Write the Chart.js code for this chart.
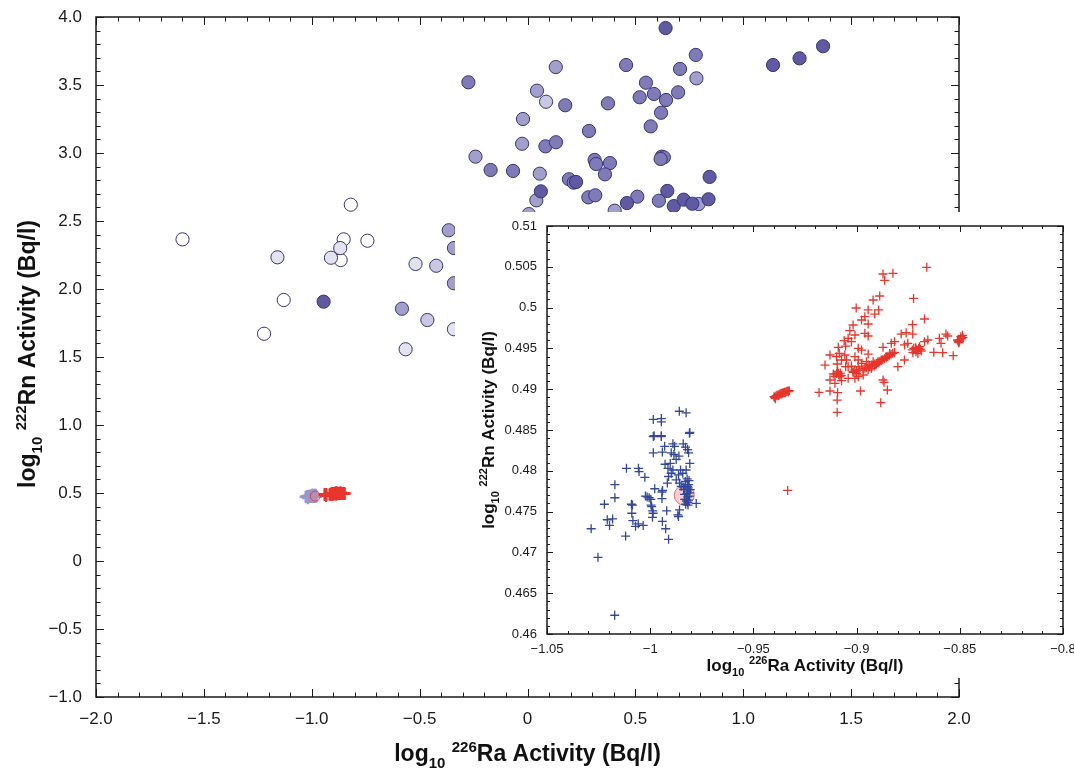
<!DOCTYPE html>
<html>
<head>
<meta charset="utf-8">
<script src="https://cdn.jsdelivr.net/npm/chart.js@4.4.1/dist/chart.umd.min.js"></script>
<style>
  html, body { margin: 0; padding: 0; background: #ffffff; }
  #wrap { position: relative; width: 1074px; height: 769px; overflow: hidden; }
  #main { position: absolute; left: 0; top: 0; }
  #insetBox { position: absolute; left: 455px; top: 212px; width: 619px; height: 466px; background: #ffffff; }
  #inset { position: absolute; left: 0; top: 0; }
</style>
</head>
<body>
<div id="wrap">
  <canvas id="main" width="1074" height="769"></canvas>
  <div id="insetBox"><canvas id="inset" width="619" height="466"></canvas></div>
</div>
<script>
// ---- Well samples: [log10 Ra-226, log10 Rn-222], grouped by marker shade ----
const shade0 = [[-1.599,2.365],[-1.130,1.919],[-1.221,1.671],[-0.819,2.620],[-0.852,2.365],[-0.866,2.213],[-0.742,2.355]];
const shade1 = [[-1.159,2.233],[-0.868,2.301],[-0.911,2.230],[-0.519,2.184],[-0.565,1.557],[-0.341,1.704]];
const shade2 = [[-0.423,2.171],[-0.464,1.772],[0.086,3.377]];
const shade3 = [[-0.582,1.855],[-0.365,2.432],[-0.341,2.301],[-0.341,2.042],[0.131,3.632],[0.044,3.458],[-0.021,3.250],
  [0.783,3.549],[-0.025,3.068],[-0.241,2.973],[0.057,2.848],[0.041,2.652],[0.006,2.551],[0.404,2.576],[0.793,2.625]];
const shade4 = [[-0.274,3.520],[0.175,3.351],[0.373,3.365],[0.457,3.647],[0.549,3.517],[0.520,3.410],[0.586,3.434],
  [0.642,3.390],[0.619,3.296],[0.571,3.196],[0.285,3.162],[0.707,3.618],[0.780,3.721],[0.698,3.446],[0.083,3.049],
  [0.132,3.079],[-0.171,2.875],[-0.067,2.868],[0.311,2.949],[0.318,2.919],[0.382,2.926],[0.359,2.843],[0.622,2.973],
  [0.632,2.968],[0.617,2.956],[0.192,2.807],[0.214,2.782],[0.282,2.674],[0.314,2.689],[0.509,2.679],[0.609,2.649]];
const shade5 = [[-0.945,1.907],[0.640,3.919],[0.225,2.787],[0.844,2.824],[0.062,2.718],[0.461,2.632],[0.648,2.721],
  [0.678,2.610],[0.724,2.657],[0.764,2.627],[0.839,2.660],[1.138,3.647],[1.261,3.696],[1.370,3.785]];

// ---- Repeated measurements (zoomed panel) ----
const blueRuns = [[-1.0286,0.4729],[-1.0253,0.4694],[-1.0222,0.4759],[-1.0171,0.4783],[-1.0171,0.4767],[-1.0208,0.4740],
  [-1.0197,0.4733],[-1.0182,0.4741],[-1.0172,0.4623],[-1.0119,0.4720],[-1.0115,0.4803],[-1.0091,0.4759],[-1.0086,0.4758],
  [-1.0089,0.4748],[-1.0084,0.4739],[-1.0071,0.4732],[-1.0057,0.4803],[-1.0054,0.4799],[-1.0058,0.4735],[-1.0034,0.4733],
  [-1.0026,0.4792],[-1.0023,0.4769],[-1.0015,0.4768],[-1.0005,0.4767],[-0.9997,0.4765],[-0.9996,0.4758],[-0.9993,0.4756],
  [-0.9988,0.4751],[-0.9986,0.4748],[-0.9989,0.4743],[-0.9985,0.4822],[-0.9981,0.4843],[-0.9946,0.4843],[-0.9941,0.4823],
  [-0.9978,0.4778],[-0.9943,0.4774],[-0.9940,0.4776],[-0.9943,0.4766],[-0.9941,0.4738],[-0.9925,0.4729],[-0.9920,0.4751],
  [-0.9911,0.4716],[-0.9930,0.4830],[-0.9928,0.4808],[-0.9914,0.4803],[-0.9903,0.4809],[-0.9898,0.4822],[-0.9890,0.4833],
  [-0.9885,0.4820],[-0.9882,0.4830],[-0.9874,0.4814],[-0.9861,0.4818],[-0.9840,0.4833],[-0.9829,0.4829],[-0.9819,0.4826],
  [-0.9810,0.4846],[-0.9808,0.4809],[-0.9814,0.4822],[-0.9853,0.4801],[-0.9842,0.4797],[-0.9826,0.4801],[-0.9863,0.4795],
  [-0.9874,0.4789],[-0.9858,0.4785],[-0.9850,0.4781],[-0.9838,0.4777],[-0.9834,0.4771],[-0.9826,0.4765],[-0.9818,0.4761],
  [-0.9810,0.4769],[-0.9806,0.4777],[-0.9814,0.4783],[-0.9829,0.4783],[-0.9777,0.4760],[-0.9858,0.4752],[-0.9866,0.4746],
  [-0.9863,0.4744],[-0.9917,0.4785],[-0.9911,0.4793],[-0.9898,0.4797],[-0.9890,0.4801],
  [-0.9985,0.4863],[-0.9946,0.4864],[-0.9946,0.4860],[-0.9859,0.4873],[-0.9826,0.4871],[-0.9808,0.4847],[-0.9985,0.4842],
  [-0.9946,0.4842],[-0.9820,0.4775],[-0.9822,0.4772],[-0.9818,0.4768],[-0.9824,0.4763],[-0.9816,0.4779],[-0.9830,0.4787],
  [-0.9821,0.4790],[-0.9812,0.4788],[-0.9836,0.4779],[-0.9817,0.4758],[-0.9828,0.4759],[-0.9815,0.4764],[-0.9808,0.4773],
  [-0.9833,0.4765],[-0.9819,0.4781]];

const redRuns = [[-0.8660,0.50493],[-0.8872,0.50412],[-0.8824,0.50420],[-0.8864,0.50334],[-0.8724,0.50113],[-0.8920,0.50093],
  [-0.8888,0.50142],[-0.9002,0.49995],[-0.8944,0.49971],[-0.8893,0.49971],[-0.8912,0.49921],[-0.8960,0.49889],[-0.8976,0.49848],
  [-0.8944,0.49799],[-0.8671,0.49860],[-0.8729,0.49791],[-0.9017,0.49787],[-0.9033,0.49717],[-0.9008,0.49664],[-0.8960,0.49685],
  [-0.8944,0.49652],[-0.9041,0.49623],[-0.9060,0.49595],[-0.9025,0.49582],[-0.9053,0.49529],[-0.9089,0.49513],[-0.8992,0.49501],
  [-0.8976,0.49480],[-0.9084,0.49439],[-0.9129,0.49419],[-0.9057,0.49419],[-0.9008,0.49399],[-0.8944,0.49431],[-0.8872,0.49513],
  [-0.8832,0.49562],[-0.8816,0.49582],[-0.8784,0.49676],[-0.8760,0.49693],[-0.8728,0.49676],[-0.8768,0.49542],[-0.8752,0.49562],
  [-0.8712,0.49489],[-0.8695,0.49521],[-0.8671,0.49582],[-0.8655,0.49603],[-0.8599,0.49623],[-0.8567,0.49676],[-0.8559,0.49652],
  [-0.8591,0.49562],[-0.8626,0.49452],[-0.8583,0.49448],[-0.8532,0.49411],[-0.8511,0.49603],[-0.8495,0.49644],[-0.8487,0.49660],
  [-0.8503,0.49582],[-0.9153,0.49296],[-0.9094,0.49309],[-0.9089,0.49194],[-0.9081,0.49154],[-0.9113,0.49186],[-0.9129,0.49113],
  [-0.9105,0.49072],[-0.9073,0.49104],[-0.9041,0.49133],[-0.9017,0.49215],[-0.9000,0.49194],[-0.8992,0.49276],[-0.8960,0.49256],
  [-0.8928,0.49296],[-0.8904,0.49317],[-0.8880,0.49358],[-0.8856,0.49399],[-0.8840,0.49439],[-0.8816,0.49452],[-0.8800,0.49276],
  [-0.8768,0.49358],[-0.8712,0.49460],[-0.8703,0.49439],[-0.8687,0.49468],[-0.8872,0.49113],[-0.8867,0.49084],[-0.8851,0.48990],
  [-0.8981,0.48978],[-0.8883,0.48835],[-0.9129,0.48978],[-0.9092,0.48957],[-0.9094,0.48867],[-0.9094,0.48716],[-0.9182,0.48961],
  [-0.8992,0.49358],[-0.8976,0.49317],[-0.8952,0.49337],[-0.8920,0.49337],[-0.8912,0.49309],[-0.8896,0.49337],[-0.8928,0.49276],
  [-0.8944,0.49235],[-0.9008,0.49235],[-0.9025,0.49284],[-0.9041,0.49276],[-0.9053,0.49276],[-0.9073,0.49358],[-0.9097,0.49399],
  [-0.9049,0.49358],[-0.8992,0.49154],[-0.8968,0.49174],[-0.9008,0.49133],
  [-0.9017,0.49207],[-0.9001,0.49223],[-0.8985,0.49235],[-0.8969,0.49248],[-0.8953,0.49264],[-0.8937,0.49276],[-0.8921,0.49292],
  [-0.8905,0.49305],[-0.8897,0.49325],[-0.8889,0.49337],[-0.8881,0.49350],[-0.8873,0.49362],[-0.8865,0.49374],[-0.8857,0.49386],
  [-0.8849,0.49399],[-0.8841,0.49415],[-0.8833,0.49427],[-0.8825,0.49440],[-0.8817,0.49448],[-0.8928,0.49256],[-0.8912,0.49284],
  [-0.8944,0.49296],[-0.8730,0.49481],[-0.8723,0.49501],[-0.8714,0.49509],[-0.8707,0.49481],[-0.8699,0.49501],[-0.8691,0.49489],
  [-0.8727,0.49448],[-0.8508,0.49587],[-0.8500,0.49603],[-0.8492,0.49619],[-0.8485,0.49632],[-0.8505,0.49570],
  [-0.9097,0.49194],[-0.9087,0.49174],[-0.9079,0.49198],[-0.9105,0.49158],[-0.9074,0.49166],[-0.9092,0.49219],
  [-0.9400,0.48908],[-0.9397,0.48900],[-0.9394,0.48884],[-0.9391,0.48917],[-0.9386,0.48925],[-0.9381,0.48929],[-0.9378,0.48921],
  [-0.9375,0.48937],[-0.9370,0.48941],[-0.9365,0.48949],[-0.9362,0.48941],[-0.9359,0.48953],[-0.9354,0.48957],[-0.9349,0.48962],
  [-0.9346,0.48957],[-0.9342,0.48970],[-0.9338,0.48974],[-0.9333,0.48978],[-0.9330,0.48970],[-0.9326,0.48982],
  [-0.9334,0.47760]];

const reference = [[-0.9835,0.4770]];

// ---- Axis ticks and labels ----
const mainXTicks = [-2, -1.5, -1, -0.5, 0, 0.5, 1, 1.5, 2];
const mainXLabels = ['\u22122.0','\u22121.5','\u22121.0','\u22120.5','0','0.5','1.0','1.5','2.0'];
const mainYTicks = [-1, -0.5, 0, 0.5, 1, 1.5, 2, 2.5, 3, 3.5, 4];
const mainYLabels = ['\u22121.0','\u22120.5','0','0.5','1.0','1.5','2.0','2.5','3.0','3.5','4.0'];
const insetXTicks = [-1.05, -1, -0.95, -0.9, -0.85, -0.8];
const insetXLabels = ['\u22121.05','\u22121','\u22120.95','\u22120.9','\u22120.85','\u22120.8'];
const insetYTicks = [0.46, 0.465, 0.47, 0.475, 0.48, 0.485, 0.49, 0.495, 0.5, 0.505, 0.51];
const insetYLabels = ['0.46','0.465','0.47','0.475','0.48','0.485','0.49','0.495','0.5','0.505','0.51'];

const FONT = '"Liberation Sans", Arial, Helvetica, sans-serif';
const toXY = arr => arr.map(p => ({ x: p[0], y: p[1] }));

// Rich axis title: log with subscript 10, superscript mass number
function titleParts(mass, element) {
  return [{ t: 'log' }, { t: '10', s: 'sub' }, { t: ' ' }, { t: mass, s: 'sup' }, { t: element + ' Activity (Bq/l)' }];
}
function drawRich(ctx, parts, cx, cy, rot, base, small) {
  ctx.save();
  ctx.translate(cx, cy);
  ctx.rotate(rot);
  let w = 0;
  parts.forEach(p => {
    ctx.font = 'bold ' + (p.s ? small : base) + 'px ' + FONT;
    p.w = ctx.measureText(p.t).width;
    w += p.w;
  });
  let x = -w / 2;
  ctx.fillStyle = '#111111';
  ctx.textBaseline = 'alphabetic';
  ctx.textAlign = 'left';
  parts.forEach(p => {
    ctx.font = 'bold ' + (p.s ? small : base) + 'px ' + FONT;
    const dy = p.s === 'sub' ? base * 0.28 : (p.s === 'sup' ? -base * 0.40 : 0);
    ctx.fillText(p.t, x, base * 0.36 + dy);
    x += p.w;
  });
  ctx.restore();
}

// Frame on all four sides with inward major/minor ticks, plus axis titles
function framePlugin(o) {
  return {
    id: 'frameTicks',
    afterDatasetsDraw(chart) {
      const { ctx, chartArea: a, scales: { x, y } } = chart;
      ctx.save();
      ctx.strokeStyle = '#1a1a1a';
      ctx.lineWidth = 1;
      ctx.beginPath();
      const nx = Math.round((x.max - x.min) / o.xMinor);
      for (let i = 0; i <= nx; i++) {
        const v = x.min + i * o.xMinor;
        const r = v / o.xMajor;
        const L = Math.abs(r - Math.round(r)) < 1e-6 ? o.major : o.minor;
        const px = Math.round(x.getPixelForValue(v)) + 0.5;
        ctx.moveTo(px, a.bottom); ctx.lineTo(px, a.bottom - L);
        ctx.moveTo(px, a.top); ctx.lineTo(px, a.top + L);
      }
      const ny = Math.round((y.max - y.min) / o.yMinor);
      for (let i = 0; i <= ny; i++) {
        const v = y.min + i * o.yMinor;
        const r = v / o.yMajor;
        const L = Math.abs(r - Math.round(r)) < 1e-6 ? o.major : o.minor;
        const py = Math.round(y.getPixelForValue(v)) + 0.5;
        ctx.moveTo(a.left, py); ctx.lineTo(a.left + L, py);
        ctx.moveTo(a.right, py); ctx.lineTo(a.right - L, py);
      }
      ctx.stroke();
      ctx.lineWidth = o.frame;
      ctx.strokeRect(a.left, a.top, a.right - a.left, a.bottom - a.top);
      ctx.restore();
    },
    afterDraw(chart) {
      const { ctx, chartArea: a } = chart;
      drawRich(ctx, titleParts('226', 'Ra'), (a.left + a.right) / 2, o.xTitleY, 0, o.tBase, o.tSmall);
      drawRich(ctx, titleParts('222', 'Rn'), o.yTitleX, (a.top + a.bottom) / 2 + o.yTitleShift, -Math.PI / 2, o.tBase, o.tSmall);
    }
  };
}

function axis(min, max, ticks, labels, size, pad, fixed, horizontal) {
  return {
    type: 'linear', min, max,
    afterBuildTicks: s => { s.ticks = ticks.map(v => ({ value: v })); },
    afterFit: s => {
      if (horizontal) s.height = fixed; else s.width = fixed;
      s.paddingLeft = 0; s.paddingRight = 0; s.paddingTop = 0; s.paddingBottom = 0;
    },
    ticks: {
      autoSkip: false, maxRotation: 0, minRotation: 0, padding: pad, color: '#1a1a1a',
      font: { family: FONT, size },
      callback: (v, i) => labels[i]
    },
    grid: { display: false, drawTicks: false },
    border: { display: false }
  };
}

function circleSet(data, fill) {
  return { data: toXY(data), pointStyle: 'circle', pointRadius: 6.6, backgroundColor: fill, borderColor: '#36337d', borderWidth: 1 };
}
function crossSet(data, color, r, w) {
  return { data: toXY(data), pointStyle: 'cross', pointRadius: r, borderColor: color, backgroundColor: color, borderWidth: w };
}
function ordered(list) { return list.map((d, i) => Object.assign(d, { order: list.length - i })); }

const common = {
  responsive: false, animation: false, devicePixelRatio: 1, events: [],
  plugins: { legend: { display: false }, tooltip: { enabled: false } }
};

new Chart(document.getElementById('main'), {
  type: 'scatter',
  data: {
    datasets: ordered([
      crossSet(blueRuns, '#9a98cc', 6, 2.2),
      { data: toXY(reference), pointStyle: 'circle', pointRadius: 5, backgroundColor: 'rgba(240,120,120,0.35)', borderColor: 'rgba(225,50,50,0.8)', borderWidth: 1 },
      crossSet(redRuns, '#e8362c', 6, 2),
      circleSet(shade0, '#ffffff'),
      circleSet(shade1, '#e3e2ef'),
      circleSet(shade2, '#c9c7e1'),
      circleSet(shade3, '#a29fcb'),
      circleSet(shade4, '#7f7bb7'),
      circleSet(shade5, '#5f5aa2')
    ])
  },
  options: Object.assign({}, common, {
    layout: { padding: { top: 17, right: 115, left: 0, bottom: 0 } },
    scales: {
      x: axis(-2, 2, mainXTicks, mainXLabels, 17, 12, 72, true),
      y: axis(-1, 4, mainYTicks, mainYLabels, 17, 14, 96, false)
    }
  }),
  plugins: [framePlugin({ xMinor: 0.1, xMajor: 0.5, yMinor: 0.1, yMajor: 0.5, major: 8, minor: 4.5, frame: 1.5,
    xTitleY: 753, yTitleX: 27, yTitleShift: -3, tBase: 23, tSmall: 15 })]
});

new Chart(document.getElementById('inset'), {
  type: 'scatter',
  data: {
    datasets: ordered([
      { data: toXY(reference), pointStyle: 'circle', pointRadius: 10, backgroundColor: 'rgba(240,120,120,0.35)', borderColor: 'rgba(225,60,60,0.7)', borderWidth: 1 },
      crossSet(blueRuns, '#34489b', 4.5, 1.3),
      crossSet(redRuns, '#e8362c', 4.5, 1.3)
    ])
  },
  options: Object.assign({}, common, {
    layout: { padding: { top: 14, right: 8, left: 0, bottom: 0 } },
    scales: {
      x: axis(-1.05, -0.8, insetXTicks, insetXLabels, 13, 8, 44, true),
      y: axis(0.46, 0.51, insetYTicks, insetYLabels, 13, 10, 92, false)
    }
  }),
  plugins: [framePlugin({ xMinor: 0.01, xMajor: 0.05, yMinor: 0.001, yMajor: 0.005, major: 6, minor: 3, frame: 1.5,
    xTitleY: 453, yTitleX: 33, yTitleShift: 0, tBase: 17, tSmall: 11 })]
});
</script>
</body>
</html>
